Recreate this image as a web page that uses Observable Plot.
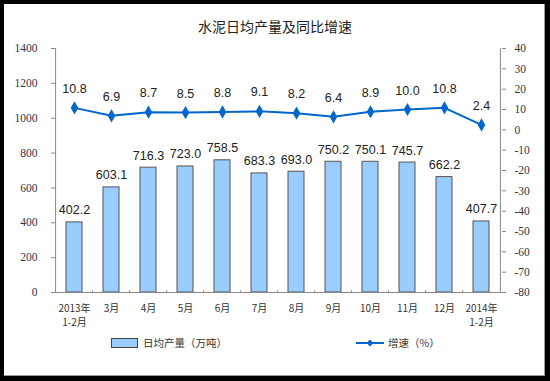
<!DOCTYPE html>
<html><head><meta charset="utf-8">
<script src="https://cdn.jsdelivr.net/npm/d3@7"></script>
<script src="https://cdn.jsdelivr.net/npm/@observablehq/plot@0.6"></script>
<style>
body{margin:0;}
#frame{position:relative;width:550px;height:381px;background:#000;overflow:hidden;}
#inner{position:absolute;left:4px;top:4px;width:540px;height:371px;background:#fff;border-right:1px solid #999;border-bottom:1px solid #999;}
#title{position:absolute;left:0;width:550px;top:16px;text-align:center;font-family:"Noto Sans CJK SC";font-size:14px;color:#222;}
#chart{position:absolute;left:0;top:0;}
.leg{position:absolute;top:335px;font-family:"Noto Sans CJK SC";font-size:10.5px;color:#333;display:flex;align-items:center;}
</style></head>
<body>
<div id="frame"><div id="inner"></div>
<div id="title">水泥日均产量及同比增速</div>
<div id="chart"></div>
<div class="leg" style="left:111px"><span style="display:inline-block;width:25px;height:8px;background:#99CCFF;border:1px solid #444;margin-right:5px"></span>日均产量（万吨）</div>
<div class="leg" style="left:356px"><svg width="30" height="10" style="margin-right:2px"><line x1="0" y1="5" x2="28" y2="5" stroke="#0066CC" stroke-width="2"/><path d="M14,1.5L17.5,5L14,8.5L10.5,5Z" fill="#0066CC"/></svg>增速（%）</div>
</div>
<script>
const months = ["2013年\n1-2月","3月","4月","5月","6月","7月","8月","9月","10月","11月","12月","2014年\n1-2月"];
const production = [402.2,603.1,716.3,723.0,758.5,683.3,693.0,750.2,750.1,745.7,662.2,407.7];
const growth = [10.8,6.9,8.7,8.5,8.8,9.1,8.2,6.4,8.9,10.0,10.8,2.4];
const leftTicks = [0,200,400,600,800,1000,1200,1400];
const rightTicks = [-80,-70,-60,-50,-40,-30,-20,-10,0,10,20,30,40];

const toLeft = g => (g + 80) * 1400 / 120;
const data = months.map((m,i)=>({month:m, prod:production[i], g:growth[i], gl:toLeft(growth[i])}));

const W = 550, H = 330, mL = 51, mR = 45;
const step = (W - mL - mR) / months.length;

const plot = Plot.plot({
  width: W, height: H,
  marginLeft: mL, marginRight: mR, marginTop: 48, marginBottom: 38,
  style: {background: "transparent", overflow: "visible"},
  x: {domain: months, paddingInner: 0.56, paddingOuter: 0.28, axis: null},
  y: {domain: [0, 1400], axis: null},
  marks: [
    Plot.barY(data, {x: "month", y: "prod", fill: "#99CCFF", stroke: "#555", strokeWidth: 1}),
    Plot.ruleY([0], {stroke: "#888"}),
    Plot.ruleX(data.slice(1), {x: "month", y1: 0, y2: 12, dx: -step/2, stroke: "#999"}),
    Plot.axisX({tickSize: 0, tickPadding: 9, fontFamily: "Noto Sans CJK SC", fontSize: 10, fill: "#333", lineHeight: 1.45, label: null}),
    Plot.axisY({anchor: "left", ticks: leftTicks, tickFormat: v => String(v), tickSize: -4, tickPadding: 18, fontFamily: "Liberation Serif", fontSize: 11.5, fill: "#334", stroke: "#888", label: null}),
    Plot.axisY({anchor: "right", ticks: rightTicks.map(toLeft), tickFormat: v => String(Math.round(v * 120 / 1400 - 80)), tickSize: -4, tickPadding: 13, fontFamily: "Liberation Serif", fontSize: 11.5, fill: "#334", stroke: "#888", label: null}),
    Plot.ruleX([0], {x: () => months[0], dx: -step/2, y1: 0, y2: 1400, stroke: "#888"}),
    Plot.ruleX([0], {x: () => months[months.length-1], dx: step/2, y1: 0, y2: 1400, stroke: "#888"}),
    Plot.text(data, {x: "month", y: "prod", text: d => d.prod.toFixed(1), dy: -12, fontFamily: "Liberation Sans", fontSize: 12.5, fill: "#222"}),
    Plot.line(data, {x: "month", y: "gl", stroke: "#0066CC", strokeWidth: 2}),
    Plot.dot(data, {x: "month", y: "gl", symbol: "diamond", r: 4, fill: "#0066CC", stroke: "none"}),
    Plot.text(data, {x: "month", y: "gl", text: d => d.g.toFixed(1), dy: -19, fontFamily: "Liberation Sans", fontSize: 12.5, fill: "#222"})
  ]
});
document.getElementById("chart").appendChild(plot);
</script>
</body></html>
